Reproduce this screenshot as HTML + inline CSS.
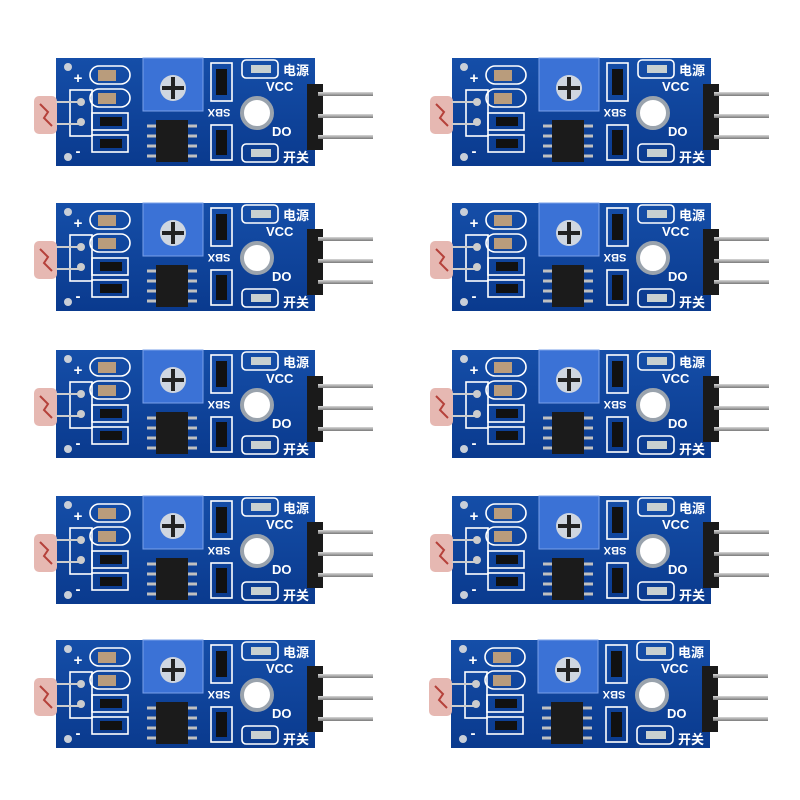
<!DOCTYPE html>
<html><head><meta charset="utf-8"><style>
html,body{margin:0;padding:0;background:#fff;width:800px;height:800px;overflow:hidden}
svg{display:block}
text{font-family:"Liberation Sans","Noto Sans CJK SC",sans-serif;font-weight:bold;fill:#fff}
</style></head><body>
<svg width="800" height="800" viewBox="0 0 800 800" xmlns="http://www.w3.org/2000/svg">
<defs>
<linearGradient id="pcb" x1="0" y1="0" x2="0" y2="1"><stop offset="0" stop-color="#154ea8"/><stop offset="1" stop-color="#0a3a8e"/></linearGradient>
<linearGradient id="pin" x1="0" y1="0" x2="0" y2="1"><stop offset="0" stop-color="#d8d8d8"/><stop offset="1" stop-color="#7a7a7a"/></linearGradient>
<g id="parts">
<rect x="0" y="0" width="259" height="108" fill="url(#pcb)"/>
<circle cx="12" cy="9" r="4" fill="#c9cfd8"/><circle cx="12" cy="99" r="4" fill="#c9cfd8"/>
<g stroke="#fff" stroke-width="1.6" fill="none">
<rect x="14" y="32" width="22" height="46"/>
<rect x="34" y="8" width="40" height="18" rx="9"/><rect x="34" y="31" width="40" height="18" rx="9"/>
<rect x="36" y="55" width="36" height="17"/><rect x="36" y="77" width="36" height="17"/>
<rect x="155" y="5" width="21" height="38"/><rect x="155" y="67" width="21" height="35"/>
<rect x="186" y="2" width="36" height="18" rx="4"/><rect x="186" y="86" width="36" height="18" rx="4"/>
</g>
<rect x="42" y="12" width="18" height="11" fill="#b99c7c"/><rect x="42" y="35" width="18" height="11" fill="#b99c7c"/>
<rect x="44" y="59" width="22" height="9" fill="#111"/><rect x="44" y="81" width="22" height="9" fill="#111"/>
<rect x="160" y="11" width="11" height="26" fill="#111"/><rect x="160" y="72" width="11" height="25" fill="#111"/>
<rect x="195" y="7" width="20" height="8" fill="#c8d0d0"/><rect x="195" y="91" width="20" height="8" fill="#c8d0d0"/>
<text x="22" y="25" font-size="15" text-anchor="middle">+</text>
<text x="22" y="98" font-size="15" text-anchor="middle">-</text>
<circle cx="25" cy="44" r="4" fill="#ccc"/><circle cx="25" cy="64" r="4" fill="#ccc"/>
<rect x="-22" y="38" width="23" height="38" rx="5" fill="#e6b8b2"/>
<path d="M-16 46 l8 8 l-4 6 l8 8" stroke="#b5413a" stroke-width="2" fill="none"/>
<line x1="0" y1="44" x2="25" y2="44" stroke="#ccc" stroke-width="2"/><line x1="0" y1="66" x2="25" y2="66" stroke="#ccc" stroke-width="2"/>
<rect x="87" y="0" width="60" height="53" fill="#3b72d6" stroke="#7aa0e8" stroke-width="1"/>
<circle cx="117" cy="30" r="13" fill="#cfd6e0"/>
<path d="M117 19 v22 M106 30 h22" stroke="#222" stroke-width="4"/>
<rect x="100" y="62" width="32" height="42" fill="#1b1b1b"/>
<g stroke="#c0c0c0" stroke-width="3"><line x1="91" y1="68" x2="100" y2="68"/><line x1="91" y1="78" x2="100" y2="78"/><line x1="91" y1="88" x2="100" y2="88"/><line x1="91" y1="98" x2="100" y2="98"/><line x1="132" y1="68" x2="141" y2="68"/><line x1="132" y1="78" x2="141" y2="78"/><line x1="132" y1="88" x2="141" y2="88"/><line x1="132" y1="98" x2="141" y2="98"/></g>
<text x="163" y="59" font-size="11" text-anchor="middle" transform="rotate(180 163 55)">SBX</text>
<circle cx="201" cy="55" r="15" fill="#fff" stroke="#9aa3ad" stroke-width="4"/>
<text x="227" y="17" font-size="13">电源</text>
<text x="227" y="104" font-size="13">开关</text>
<text x="210" y="33" font-size="13">VCC</text>
<text x="216" y="78" font-size="13">DO</text>
<rect x="251" y="26" width="16" height="66" fill="#1a1a1a"/>
<rect x="262" y="34" width="55" height="4" fill="url(#pin)"/><rect x="262" y="56" width="55" height="4" fill="url(#pin)"/><rect x="262" y="77" width="55" height="4" fill="url(#pin)"/>
</g>
</defs>
<use href="#parts" x="56" y="58"/><use href="#parts" x="452" y="58"/>
<use href="#parts" x="56" y="203"/><use href="#parts" x="452" y="203"/>
<use href="#parts" x="56" y="350"/><use href="#parts" x="452" y="350"/>
<use href="#parts" x="56" y="496"/><use href="#parts" x="452" y="496"/>
<use href="#parts" x="56" y="640"/><use href="#parts" x="451" y="640"/>
</svg>
</body></html>
